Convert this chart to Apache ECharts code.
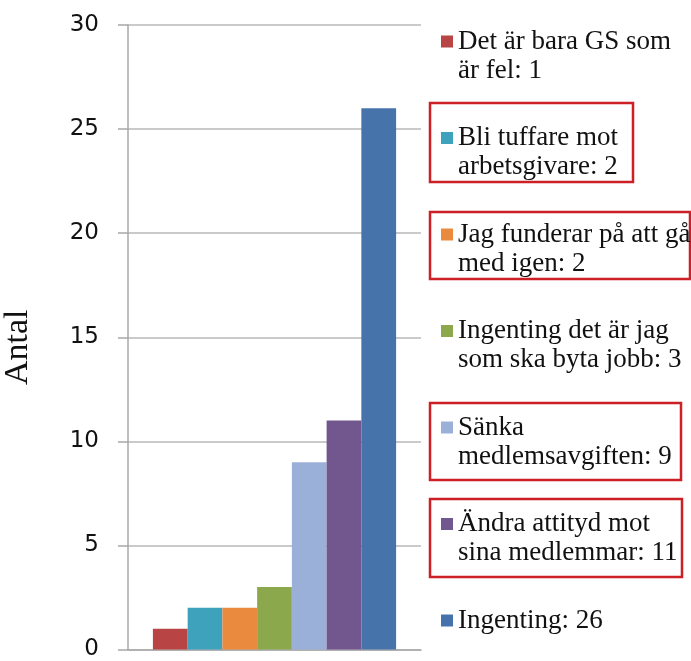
<!DOCTYPE html>
<html>
<head>
<meta charset="utf-8">
<script src="https://cdn.jsdelivr.net/npm/echarts@6/dist/echarts.min.js"></script>
<style>
  html, body { margin: 0; padding: 0; background: #fff; }
  #chart { width: 691px; height: 661px; }
</style>
</head>
<body>
<div id="chart"></div>
<script>
// data
var seriesNames = [
  'Det är bara GS som\när fel: 1',
  'Bli tuffare mot\narbetsgivare: 2',
  'Jag funderar på att gå\nmed igen: 2',
  'Ingenting det är jag\nsom ska byta jobb: 3',
  'Sänka\nmedlemsavgiften: 9',
  'Ändra attityd mot\nsina medlemmar: 11',
  'Ingenting: 26'
];
var values = [1, 2, 2, 3, 9, 11, 26];
var colors = ['#b84543', '#3ea2bd', '#e98a3e', '#8ca84c', '#9bb0d9', '#72578f', '#4673aa'];
var yTicks = { min: 0, max: 30, step: 5 };
var axisName = 'Antal';
// legend entries that have a red box drawn round them
var boxed = [
  [430, 103, 203, 79],
  [430, 212, 260, 67],
  [430, 403, 251, 77],
  [430, 499, 252, 78]
];

var myChart = echarts.init(document.getElementById('chart'));

var series = seriesNames.map(function (name, i) {
  return {
    name: name,
    type: 'bar',
    barGap: '0%',
    barCategoryGap: '17%',
    itemStyle: { color: colors[i] },
    data: [values[i]]
  };
});

var legendText = {
  fontFamily: 'Liberation Serif',
  fontSize: 27,
  lineHeight: 29,
  color: '#111'
};

myChart.setOption({
  animation: false,
  grid: { left: 126, right: 270, top: 25, bottom: 7 },
  legend: [
    {
      orient: 'vertical',
      left: 436,
      top: -7,
      itemWidth: 12,
      itemHeight: 12,
      itemGap: 9.5,
      icon: 'rect',
      selectedMode: false,
      // blank first line so the square sits level with the first text line
      formatter: function (name) { return '\n' + name; },
      textStyle: legendText,
      data: seriesNames.slice(0, 6)
    },
    {
      // last (single line) entry, laid out on its own so it does not wrap away
      orient: 'vertical',
      left: 436,
      top: 601,
      itemWidth: 12,
      itemHeight: 12,
      icon: 'rect',
      selectedMode: false,
      textStyle: legendText,
      data: seriesNames.slice(6)
    }
  ],
  xAxis: {
    type: 'category',
    data: [''],
    axisLabel: { show: false },
    axisTick: { show: false },
    axisLine: { lineStyle: { color: '#a8a8a8', width: 1.5 } }
  },
  yAxis: {
    type: 'value',
    min: yTicks.min,
    max: yTicks.max,
    interval: yTicks.step,
    name: axisName,
    nameLocation: 'middle',
    nameGap: 93,
    nameTextStyle: { fontFamily: 'Liberation Serif', fontSize: 34, color: '#111', padding: [0, 20, 0, 0] },
    axisLine: { show: true, lineStyle: { color: '#a8a8a8', width: 1.5 } },
    axisTick: { show: true, length: 10, lineStyle: { color: '#a8a8a8', width: 1.5 } },
    axisLabel: { margin: 29, fontFamily: 'DejaVu Sans', fontSize: 23, color: '#111' },
    splitLine: { lineStyle: { color: '#b8b8b8', width: 1.5 } }
  },
  graphic: boxed.map(function (b) {
    return {
      type: 'rect',
      shape: { x: b[0], y: b[1], width: b[2], height: b[3] },
      style: { fill: 'none', stroke: '#cc1f26', lineWidth: 2.5 },
      silent: true
    };
  }),
  series: series
});
</script>
</body>
</html>
